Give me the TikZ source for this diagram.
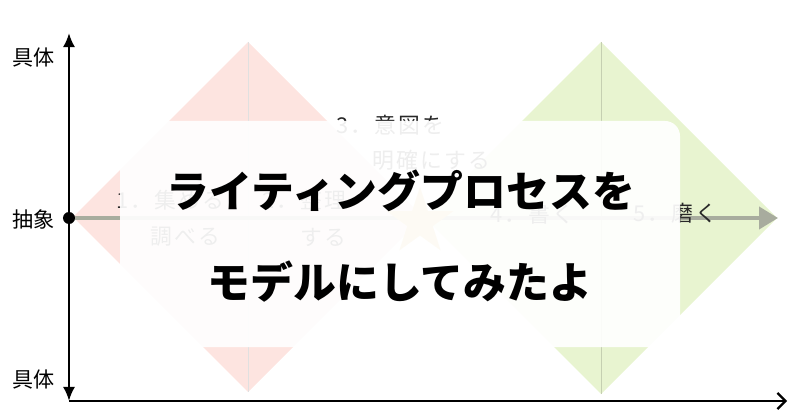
\documentclass[tikz,border=0pt]{standalone}
\usepackage{fontspec}
\newfontfamily\jpfont{Noto Sans CJK JP}
\usetikzlibrary{arrows.meta,shapes.geometric}
\definecolor{pinkface}{RGB}{253,228,224}
\definecolor{greenface}{RGB}{232,244,208}
\definecolor{flowgray}{RGB}{168,172,158}
\definecolor{stargold}{RGB}{232,200,120}
\definecolor{inkgray}{RGB}{40,40,40}

\begin{document}
\begin{tikzpicture}[x=0.025cm,y=-0.025cm,
  axislabel/.style={font=\jpfont\fontsize{15}{18}\selectfont,inner sep=0},
  steptext/.style={font=\jpfont\fontsize{15.5}{18}\selectfont\addfontfeature{LetterSpace=10},text=inkgray,anchor=west,inner sep=0},
  titletext/.style={font=\jpfont\bfseries\fontsize{30.5}{36}\selectfont,inner sep=0}]
			\useasboundingbox (0,0) rectangle (800,419);
			% the two diamonds
			\fill[pinkface] (248,42)--(423,217)--(248,392)--(73,217)--cycle;
			\fill[greenface] (601,42)--(777,218)--(601,394)--(425,218)--cycle;
			\draw[black!12] (248,42)--(248,392);
			\draw[greenface!85!black] (601,42)--(601,394);
			% axes
			\coordinate (vtop) at (69,33);
			\coordinate (vbot) at (69,401);
			\coordinate (hend) at (787,401);
			\coordinate (flowend) at (778,218);
			\draw[line width=1.6pt,{Latex[length=0.35cm,width=0.3cm]}-{Latex[length=0.35cm,width=0.3cm]}] (vtop)--(vbot);
			\draw[line width=1.6pt,-{Straight Barb[length=0.2cm,width=0.4cm]}] (vbot)--(hend);
			\node[circle,fill,inner sep=0,minimum size=0.3cm] (origin) at (69,218) {};
			\node[axislabel] (concretetop) at (34,58) {具体};
			\node[axislabel] (abstract) at (34,219) {抽象};
			\node[axislabel] (concretebot) at (34,380) {具体};
			% process flow
			\draw[flowgray,line width=2.8pt,-{Triangle[length=0.475cm,width=0.55cm]}] (origin)--(flowend);
			\node[star,star points=5,star point ratio=2.6,fill=stargold,minimum size=1.75cm,inner sep=0] (goal) at (420,222) {};
			\node[steptext] (collect) at (116,200) {1．集める};
			\node[steptext] (collectb) at (150,237) {調べる};
			\node[steptext] (arrange) at (262,200) {2．整理};
			\node[steptext] (arrangeb) at (300,237) {する};
			\node[steptext] (intent) at (336,125) {3．意図を};
			\node[steptext] (intentb) at (372,160) {明確にする};
			\node[steptext] (write) at (490,214) {4．書く};
			\node[steptext] (polish) at (633,213) {5．磨く};
			% veil and title
			\fill[white,fill opacity=0.92,rounded corners=0.375cm] (120,121) rectangle (680,347);
			\node[titletext] (titlea) at (401,191) {ライティングプロセスを};
			\node[titletext] (titleb) at (400,282) {モデルにしてみたよ};
\end{tikzpicture}
\end{document}
